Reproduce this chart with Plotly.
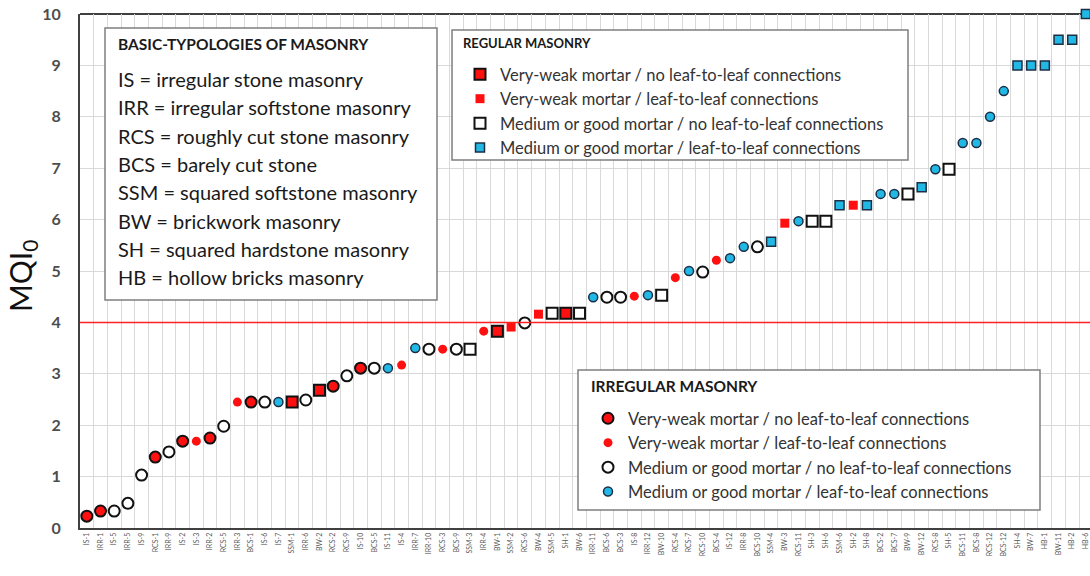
import plotly.graph_objects as go

# specimens, sorted by MQI
specimen = ["IS-1", "IRR-1", "IS-5", "IRR-5", "IS-9", "RCS-1", "IRR-9", "IS-2", "IS-3", "IRR-2",
            "RCS-5", "IRR-3", "BCS-1", "IS-6", "IS-7", "SSM-1", "IRR-6", "BW-2", "RCS-2", "RCS-9",
            "IS-10", "BCS-5", "IS-11", "IS-4", "IRR-7", "IRR-10", "RCS-3", "BCS-9", "SSM-3", "IRR-4",
            "BW-1", "SSM-2", "RCS-6", "BW-4", "SSM-5", "SH-1", "BW-6", "IRR-11", "BCS-6", "BCS-3",
            "IS-8", "IRR-12", "BW-10", "RCS-4", "RCS-7", "RCS-10", "BCS-4", "IS-12", "IRR-8", "BCS-10",
            "SSM-4", "BW-3", "RCS-11", "SH-3", "SH-6", "SSM-6", "SH-2", "SH-8", "BCS-2", "BCS-7",
            "BW-9", "BW-12", "RCS-8", "SH-5", "BCS-11", "BCS-8", "RCS-12", "BCS-12", "SH-4", "BW-7",
            "HB-1", "BW-11", "HB-2", "HB-6"]

mqi = [0.23, 0.33, 0.33, 0.48, 1.03, 1.38, 1.48, 1.69, 1.69, 1.75,
       1.98, 2.45, 2.45, 2.45, 2.45, 2.45, 2.49, 2.68, 2.76, 2.96,
       3.11, 3.11, 3.11, 3.17, 3.5, 3.48, 3.48, 3.48, 3.48, 3.83,
       3.83, 3.91, 3.99, 4.16, 4.18, 4.18, 4.18, 4.49, 4.49, 4.49,
       4.51, 4.53, 4.53, 4.87, 5.0, 4.98, 5.21, 5.25, 5.47, 5.47,
       5.57, 5.93, 5.97, 5.97, 5.97, 6.28, 6.28, 6.28, 6.5, 6.5,
       6.5, 6.63, 6.98, 6.98, 7.49, 7.49, 8.0, 8.5, 9.0, 9.0,
       9.0, 9.5, 9.5, 10.0]

# A = very-weak / no leaf, B = very-weak / leaf, C = medium-good / no leaf, D = medium-good / leaf
mortar = ["A", "A", "C", "C", "C", "A", "C", "A", "B", "A",
          "C", "B", "A", "C", "D", "A", "C", "A", "A", "C",
          "A", "C", "D", "B", "D", "C", "B", "C", "C", "B",
          "A", "B", "C", "B", "C", "A", "C", "D", "C", "C",
          "B", "D", "C", "B", "D", "C", "B", "D", "D", "C",
          "D", "B", "D", "C", "C", "D", "B", "D", "D", "D",
          "C", "D", "D", "C", "D", "D", "D", "D", "D", "D",
          "D", "D", "D", "D"]

group_names = {
    "A": "Very-weak mortar / no leaf-to-leaf connections",
    "B": "Very-weak mortar / leaf-to-leaf connections",
    "C": "Medium or good mortar / no leaf-to-leaf connections",
    "D": "Medium or good mortar / leaf-to-leaf connections",
}

typologies = ["IS = irregular stone masonry", "IRR = irregular softstone masonry",
              "RCS = roughly cut stone masonry", "BCS = barely cut stone",
              "SSM = squared softstone masonry", "BW = brickwork masonry",
              "SH = squared hardstone masonry", "HB = hollow bricks masonry"]

regular_prefix = ("SSM", "BW", "SH", "HB")
mqi_limit = 4

RED = "#ff1010"
BLUE = "#22b8e6"
styles = {
    "A": dict(color=RED, size=11, line=dict(color="#111111", width=2)),
    "B": dict(color=RED, size=9, line=dict(color=RED, width=0)),
    "C": dict(color="white", size=11, line=dict(color="#111111", width=2)),
    "D": dict(color=BLUE, size=9, line=dict(color="#1c2f45", width=1.5)),
}

fig = go.Figure()

for regular, legend, symbol in [(True, "legend", "square"), (False, "legend2", "circle")]:
    for g in ["A", "B", "C", "D"]:
        xs = [s for s, m in zip(specimen, mortar) if m == g and s.startswith(regular_prefix) == regular]
        ys = [v for s, v, m in zip(specimen, mqi, mortar) if m == g and s.startswith(regular_prefix) == regular]
        fig.add_trace(go.Scatter(x=xs, y=ys, mode="markers", name=group_names[g],
                                 marker=dict(symbol=symbol, **styles[g]),
                                 legend=legend, cliponaxis=False))

x_range = [-0.5, 73.3]

# plot area in pixels: x 80..1090, y 14..528
def px(x):
    return (x - 80) / 1010

def py(y):
    return (528 - y) / 514

box_line = dict(color="#7f7f7f", width=1.5)
shapes = [
    dict(type="line", xref="x", yref="y", x0=x_range[0], x1=x_range[1], y0=mqi_limit, y1=mqi_limit,
         line=dict(color="#ff2020", width=1.5), layer="above"),
    dict(type="line", xref="paper", yref="paper", x0=0, x1=1, y0=1, y1=1,
         line=dict(color="#404040", width=2), layer="below"),
    dict(type="rect", xref="paper", yref="paper", x0=px(105), x1=px(437), y0=py(300), y1=py(28),
         fillcolor="white", line=box_line, layer="above"),
    dict(type="rect", xref="paper", yref="paper", x0=px(452), x1=px(908), y0=py(160), y1=py(30),
         fillcolor="white", line=box_line, layer="above"),
    dict(type="rect", xref="paper", yref="paper", x0=px(578), x1=px(1040), y0=py(510), y1=py(370),
         fillcolor="white", line=box_line, layer="above"),
]

annotations = [
    dict(text="<b>BASIC-TYPOLOGIES OF MASONRY</b>", xref="paper", yref="paper",
         x=px(116), y=py(44), xanchor="left", yanchor="middle", showarrow=False,
         font=dict(size=15.5, color="#1a1a1a")),
    dict(text="<b>REGULAR MASONRY</b>", xref="paper", yref="paper",
         x=px(461), y=py(43), xanchor="left", yanchor="middle", showarrow=False,
         font=dict(size=13, color="#1a1a1a")),
    dict(text="<b>IRREGULAR MASONRY</b>", xref="paper", yref="paper",
         x=px(589), y=py(386), xanchor="left", yanchor="middle", showarrow=False,
         font=dict(size=15.5, color="#1a1a1a")),
    dict(text="MQI<sub>0</sub>", xref="paper", yref="paper", x=px(22), y=py(276),
         xanchor="center", yanchor="middle", showarrow=False, textangle=-90,
         font=dict(size=30, color="#111111")),
]
for k, t in enumerate(typologies):
    annotations.append(dict(text=t, xref="paper", yref="paper", x=px(116), y=py(79 + 28.3 * k),
                            xanchor="left", yanchor="middle", showarrow=False,
                            font=dict(size=20, color="#1a1a1a")))

legend_font = dict(size=16.5, color="#333333")

fig.update_layout(
    width=1090, height=576,
    margin=dict(l=80, r=0, t=14, b=48),
    plot_bgcolor="rgba(0,0,0,0)", paper_bgcolor="white",
    font=dict(family="Lato, Open Sans, sans-serif", color="#262626"),
    xaxis=dict(type="category", categoryorder="array", categoryarray=specimen,
               range=x_range, tickson="boundaries", showgrid=True,
               gridcolor="#d9d9d9", gridwidth=1, ticks="", tickangle=-90,
               tickfont=dict(size=7, color="#595959"), showline=True,
               linecolor="#404040", linewidth=2, zeroline=False, automargin=False),
    yaxis=dict(range=[0, 10], dtick=1, showgrid=True, gridcolor="#d9d9d9", gridwidth=1,
               showline=True, linecolor="#404040", linewidth=2, zeroline=False, ticks="",
               ticklabelstandoff=14, ticklabeloverflow="allow", automargin=False,
               tickfont=dict(size=16, color="#4d4d4d", weight="bold")),
    legend=dict(x=px(460), y=py(57), xanchor="left", yanchor="top",
                font=legend_font, bgcolor="rgba(0,0,0,0)", borderwidth=0),
    legend2=dict(x=px(588), y=py(401), xanchor="left", yanchor="top",
                 font=legend_font, bgcolor="rgba(0,0,0,0)", borderwidth=0),
    shapes=shapes,
    annotations=annotations,
    showlegend=True,
)

# drop the default body margin so the figure sits at the window's top-left corner
fig.write_html("out.html", config={"displayModeBar": False},
               post_script="document.body.style.margin = '0'; document.body.style.overflow = 'hidden';")
